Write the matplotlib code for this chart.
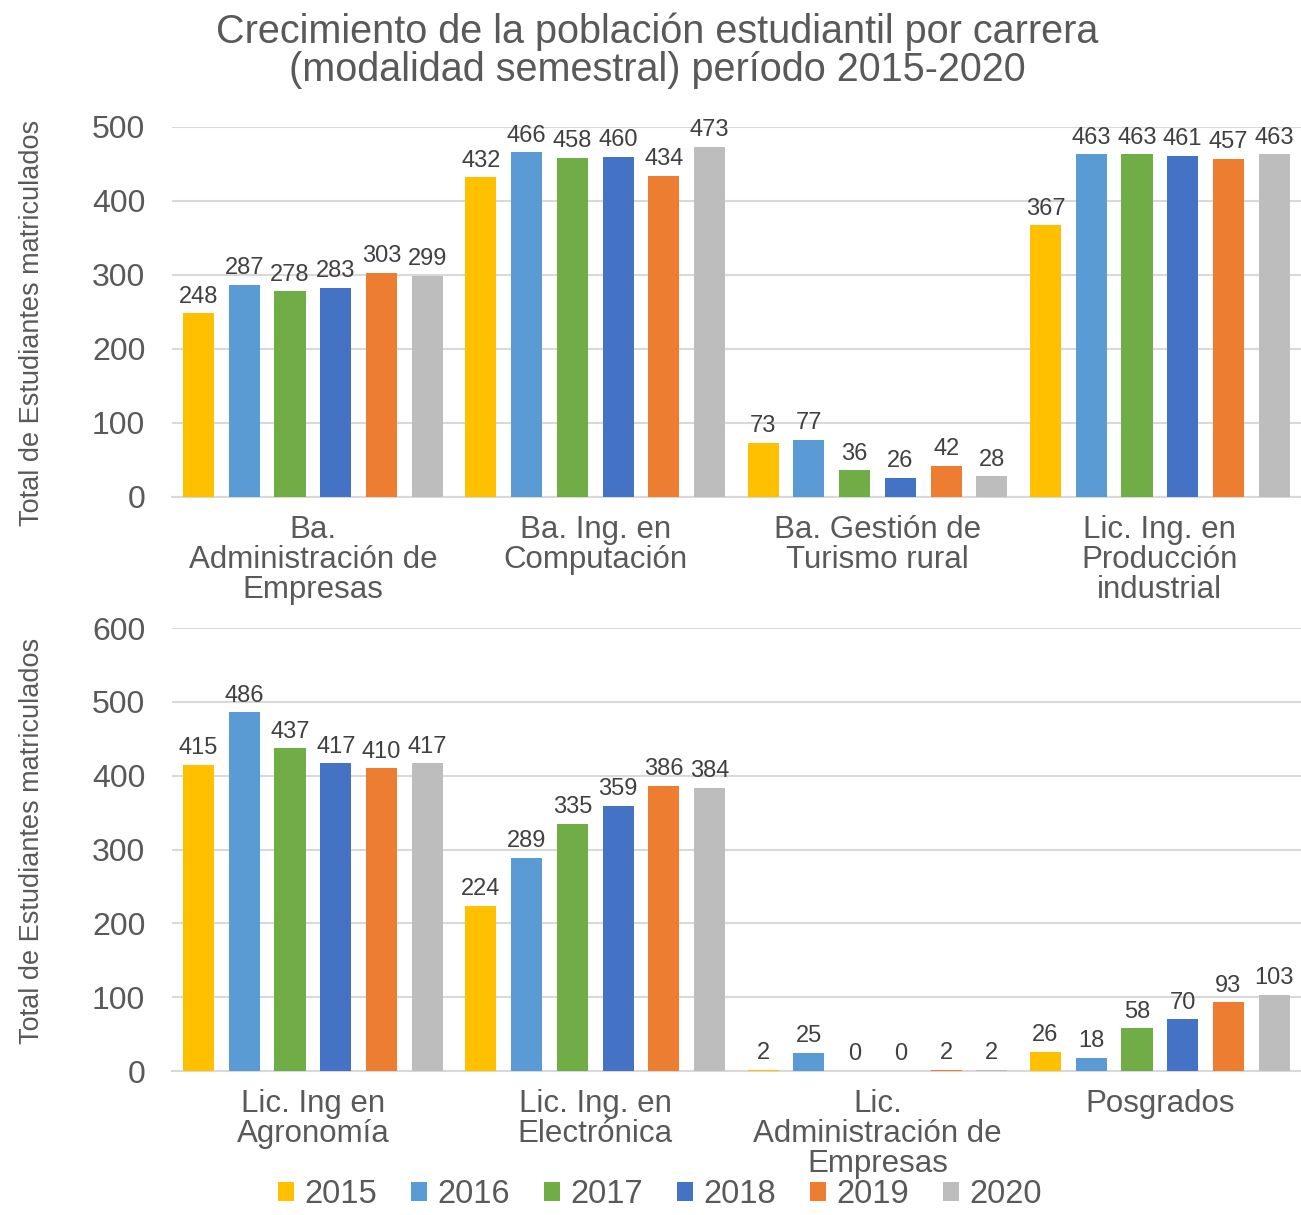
import matplotlib
matplotlib.use("Agg")
import matplotlib.pyplot as plt
import numpy as np

plt.rcParams['font.family'] = ['Liberation Sans', 'DejaVu Sans']

years = ['2015', '2016', '2017', '2018', '2019', '2020']
colors = ['#FFC000', '#5B9BD5', '#70AD47', '#4472C4', '#ED7D31', '#BDBDBD']

careers_top = ['Ba.\nAdministración de\nEmpresas', 'Ba. Ing. en\nComputación',
               'Ba. Gestión de\nTurismo rural', 'Lic. Ing. en\nProducción\nindustrial']
values_top = [
    [248, 432, 73, 367],   # 2015
    [287, 466, 77, 463],   # 2016
    [278, 458, 36, 463],   # 2017
    [283, 460, 26, 461],   # 2018
    [303, 434, 42, 457],   # 2019
    [299, 473, 28, 463],   # 2020
]

careers_bottom = ['Lic. Ing en\nAgronomía', 'Lic. Ing. en\nElectrónica',
                  'Lic.\nAdministración de\nEmpresas', 'Posgrados']
values_bottom = [
    [415, 224, 2, 26],     # 2015
    [486, 289, 25, 18],    # 2016
    [437, 335, 0, 58],     # 2017
    [417, 359, 0, 70],     # 2018
    [410, 386, 2, 93],     # 2019
    [417, 384, 2, 103],    # 2020
]

txt = '#595959'
grid = '#D9D9D9'

fig = plt.figure(figsize=(13.01, 12.15), dpi=100)
ax1 = fig.add_axes([0.132, 0.591, 0.868, 0.3045])
ax2 = fig.add_axes([0.132, 0.1185, 0.868, 0.3646])

step = 0.162
width = 0.11


def draw(ax, cats, vals, ymax):
    x = np.arange(len(cats))
    for i, (yr, col) in enumerate(zip(years, colors)):
        pos = x + (i - 2.5) * step
        ax.bar(pos, vals[i], width, color=col, label=yr, zorder=3)
        for p, v in zip(pos, vals[i]):
            ax.annotate(str(v), (p, v), xytext=(0, 4), textcoords='offset points',
                        ha='center', va='bottom', fontsize=17, color='#404040')
    ax.set_xlim(-0.5, len(cats) - 0.5)
    ax.set_ylim(0, ymax)
    ax.set_yticks(np.arange(0, ymax + 1, 100))
    ax.set_xticks(x)
    ax.set_xticklabels(cats, fontsize=22.5, color=txt, linespacing=1.0)
    ax.tick_params(axis='both', length=0)
    ax.tick_params(axis='y', labelsize=23, labelcolor=txt, pad=19)
    ax.tick_params(axis='x', pad=13)
    ax.grid(axis='y', color=grid, linewidth=1.5, zorder=0)
    for s in ['top', 'right', 'left']:
        ax.spines[s].set_visible(False)
    ax.spines['bottom'].set_color(grid)
    ax.spines['bottom'].set_linewidth(1.5)
    ax.set_ylabel('Total de Estudiantes matriculados', fontsize=19.5, color=txt)


draw(ax1, careers_top, values_top, 500)
draw(ax2, careers_bottom, values_bottom, 600)
ax1.yaxis.set_label_coords(-0.112, 0.47)
ax2.yaxis.set_label_coords(-0.112, 0.52)

fig.suptitle('Crecimiento de la población estudiantil por carrera\n(modalidad semestral) período 2015-2020',
             x=0.505, y=0.99, fontsize=28.5, color=txt, linespacing=1.0)

handles, labels = ax2.get_legend_handles_labels()
fig.legend(handles, labels, loc='lower center', bbox_to_anchor=(0.507, -0.02), ncol=6,
           frameon=False, fontsize=23.5, labelcolor=txt, handlelength=0.5, handleheight=0.5,
           handletextpad=0.3, columnspacing=1.05)

fig.savefig('out.png', dpi=100)
